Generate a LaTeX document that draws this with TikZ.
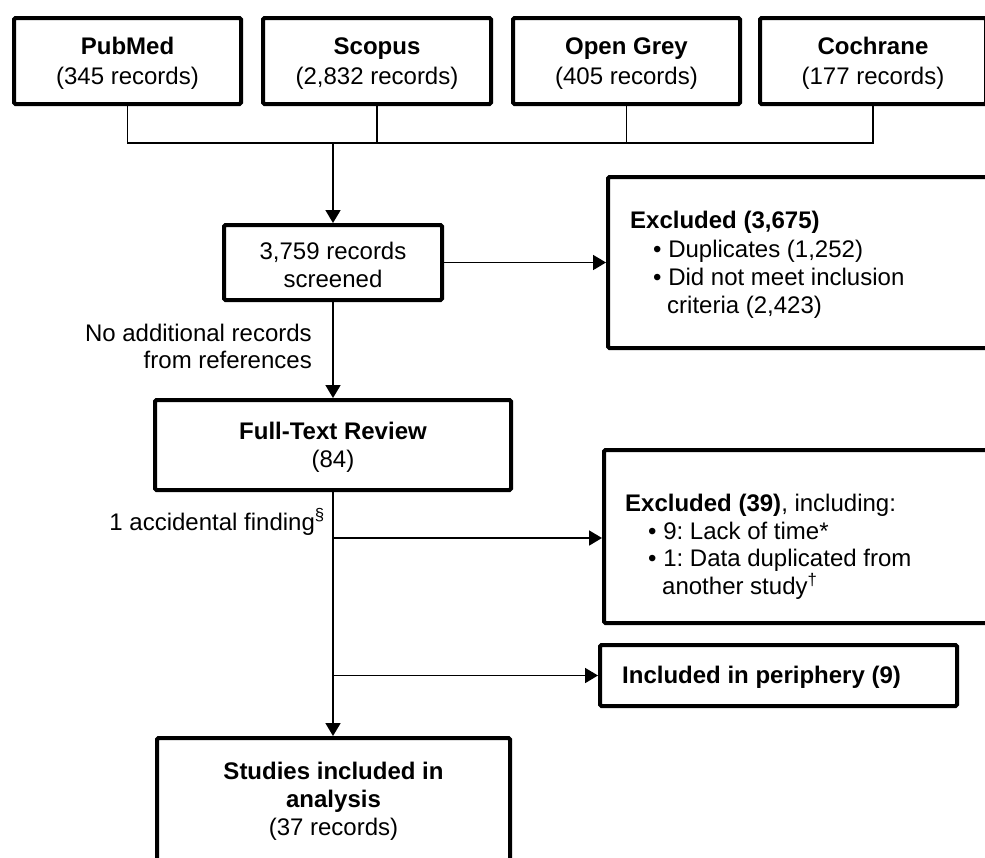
\documentclass[tikz,border=0pt]{standalone}
\usepackage{fontspec}
\setmainfont{Liberation Sans}
\usetikzlibrary{arrows.meta}
\frenchspacing
\begin{document}
\begin{tikzpicture}[x=1pt,y=-1pt,
  box/.style={draw, line width=4pt, rounded corners=1.5pt, inner sep=0pt, align=center, font=\fontsize{24}{28}\selectfont},
  ebox/.style={draw, line width=4pt, rounded corners=1.5pt, inner sep=0pt},
  ltext/.style={anchor=west, inner sep=0pt, align=left, font=\fontsize{24}{28.3}\selectfont},
  conn/.style={line width=1.8pt},
  arr/.style={conn, -{Triangle[width=15pt,length=13pt]}},
  lab/.style={font=\fontsize{24}{27}\selectfont, inner sep=0pt, align=right}]
\useasboundingbox (0,0) rectangle (985,857);
\clip (0,0) rectangle (985,857);
\newcommand{\up}{\rule{0pt}{21.5pt}}
% top sources
\node[box, minimum width=227pt, minimum height=86pt] (pub) at (127.5,61) {\up\textbf{PubMed}\\[2.5pt](345 records)};
\node[box, minimum width=228pt, minimum height=86pt] (sco) at (377,61) {\up\textbf{Scopus}\\[2.5pt](2,832 records)};
\node[box, minimum width=227pt, minimum height=86pt] (ogr) at (626.5,61) {\up\textbf{Open Grey}\\[2.5pt](405 records)};
\node[box, minimum width=226pt, minimum height=86pt] (coc) at (873,61) {\up\textbf{Cochrane}\\[2.5pt](177 records)};
% screened
\node[box, minimum width=218pt, minimum height=75pt] (scr) at (333,262.5) {\up3,759 records\\screened};
\node[ebox, minimum width=392pt, minimum height=171pt] (ex1) at (804,262.5) {};
\node[ltext] (ex1t) at (630,265) {\textbf{Excluded (3,675)}\\
\hspace*{23pt}\textbullet{} Duplicates (1,252)\\
\hspace*{23pt}\textbullet{} Did not meet inclusion\\
\hspace*{37pt}criteria (2,423)};
% full text
\node[box, minimum width=356pt, minimum height=90pt] (ftr) at (333,445) {\up\textbf{Full-Text Review}\\(84)};
\node[ebox, minimum width=396pt, minimum height=173pt] (ex2) at (802,536.5) {};
\node[ltext, font=\fontsize{24}{27.5}\selectfont] (ex2t) at (625,547) {\textbf{Excluded (39)}, including:\\
\hspace*{23pt}\textbullet{} 9: Lack of time*\\
\hspace*{23pt}\textbullet{} 1: Data duplicated from\\
\hspace*{37pt}another study\textsuperscript{\dag}};
\node[ebox, minimum width=357pt, minimum height=61pt] (per) at (778.5,675.5) {};
\node[ltext] (pert) at (622,677) {\textbf{Included in periphery (9)}};
\node[box, minimum width=353pt, minimum height=126pt] (stu) at (333.5,801) {\textbf{Studies included in}\\\textbf{analysis}\\(37 records)};
% labels
\node[lab, anchor=east] (lab1) at (312,346.5) {No additional records\\from references};
\node[lab, anchor=base east] (lab2) at (325,530) {1 accidental finding\textsuperscript{\S}};
% connectors
\coordinate (j) at (333,143);
\draw[conn] (pub.south) -- (pub.south |- j) -- (coc.south |- j) -- (coc.south);
\draw[conn] (sco.south) -- (sco.south |- j);
\draw[conn] (ogr.south) -- (ogr.south |- j);
\draw[arr] (j) -- (j |- scr.north);
\draw[arr] (scr.east) -- (ex1.west);
\draw[arr] (scr.south) -- (ftr.north);
\draw[arr] (ftr.south) -- (ftr.south |- stu.north);
\coordinate (b1) at (ftr.south |- 0,538);
\coordinate (b2) at (ftr.south |- per.west);
\draw[arr] (b1) -- (b1 -| ex2.west);
\draw[arr] (b2) -- (per.west);
\end{tikzpicture}
\end{document}
